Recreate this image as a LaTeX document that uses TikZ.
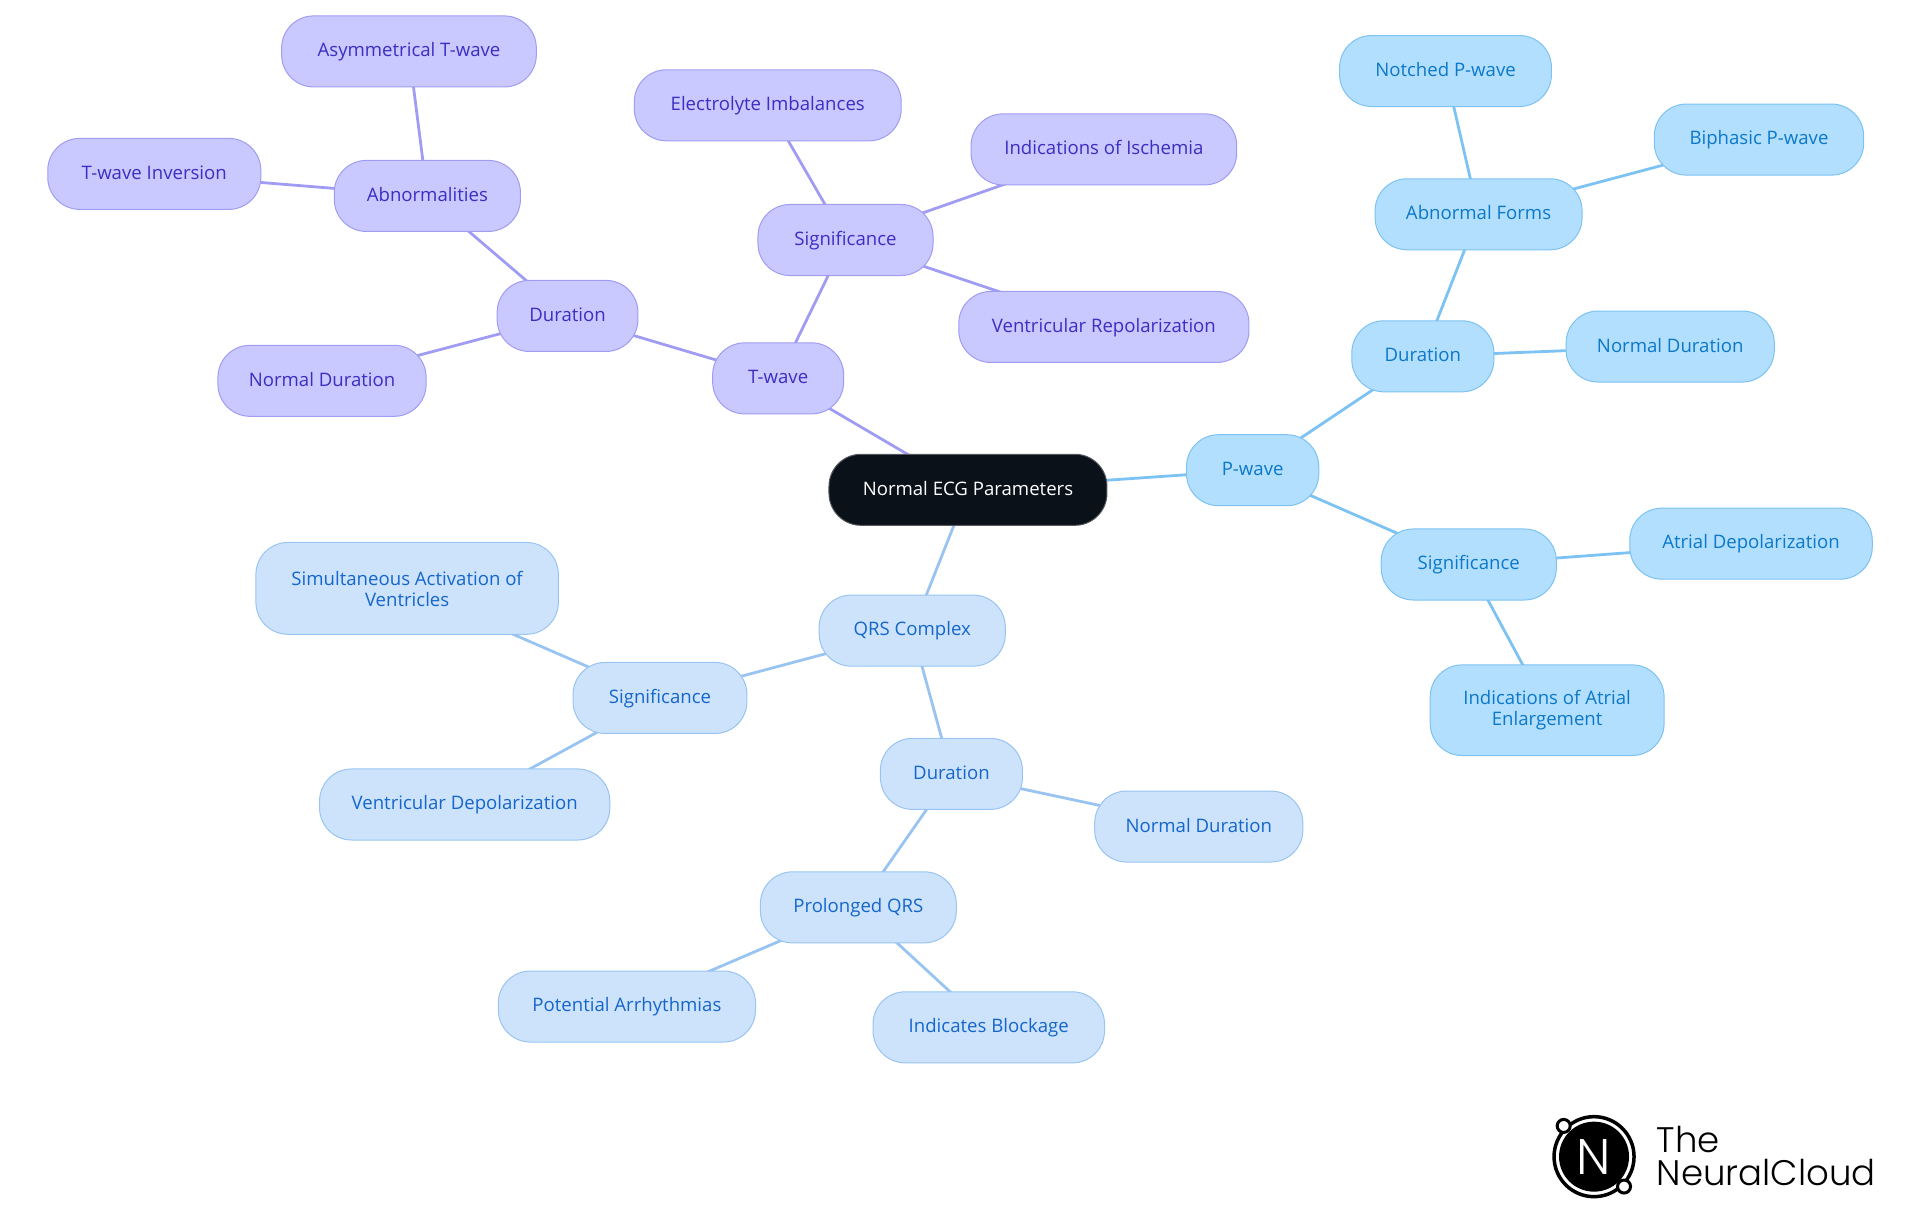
\documentclass[tikz,border=0pt]{standalone}
\usepackage{fontspec}
\usetikzlibrary{backgrounds}
\setmainfont{Open Sans}
\newfontfamily\logofont{Poppins Light}
\definecolor{pfill}{HTML}{B3DFFF}\definecolor{pline}{HTML}{7CC2F2}\definecolor{ptext}{HTML}{0B78C8}
\definecolor{qfill}{HTML}{CDE3FC}\definecolor{qline}{HTML}{99C4F2}\definecolor{qtext}{HTML}{1566CC}
\definecolor{tfill}{HTML}{C9C9FF}\definecolor{tline}{HTML}{A09CF4}\definecolor{ttext}{HTML}{3A2FC2}
\definecolor{rootfill}{HTML}{0B1119}
\tikzset{
  x=1.2245pt,y=-1.2245pt,
  mm/.style={rectangle,rounded corners=32pt,line width=1pt,inner sep=0pt,align=center,
    font=\fontsize{18.6}{21}\selectfont},
  pbox/.style={mm,draw=pline,fill=pfill,text=ptext},
  qbox/.style={mm,draw=qline,fill=qfill,text=qtext},
  tbox/.style={mm,draw=tline,fill=tfill,text=ttext},
  rootbox/.style={mm,draw=rootfill!70!white,fill=rootfill,text=white},
  pedge/.style={draw=pline,line width=2.8pt},
  qedge/.style={draw=qline,line width=2.8pt},
  tedge/.style={draw=tline,line width=2.8pt},
  logodot/.style={circle,draw=black,line width=3pt,fill=white,minimum size=13pt,inner sep=0pt},
  logotext/.style={anchor=base west,inner sep=0pt,font=\logofont\fontsize{35.5}{36}\selectfont},
}
% name, style, x1, x2, y1, y2, text
\newcommand{\bx}[7]{%
  \pgfmathsetlengthmacro{\bw}{(#4-#3)*1.2245pt}%
  \pgfmathsetlengthmacro{\bh}{(#6-#5)*1.2245pt}%
  \node[#2,minimum width=\bw,minimum height=\bh] (#1) at ({(#3+#4)/2},{(#5+#6)/2}) {\rule[-4pt]{0pt}{19pt}#7};}
\begin{document}
\begin{tikzpicture}
\useasboundingbox (0,0) rectangle (1568,992.2);
\bx{root}{rootbox}{677}{904}{371}{429}{Normal ECG Parameters}
\bx{pw}{pbox}{969}{1077}{355}{413}{P-wave}
\bx{tw}{tbox}{582}{689}{280}{338}{T-wave}
\bx{qrs}{qbox}{669}{821}{486}{544}{QRS Complex}
\bx{td}{tbox}{406}{521}{229}{287}{Duration}
\bx{ts}{tbox}{619}{762}{167}{225}{Significance}
\bx{tab}{tbox}{273}{425}{131}{189}{Abnormalities}
\bx{tasym}{tbox}{230}{438}{13}{71}{Asymmetrical T-wave}
\bx{tinv}{tbox}{39}{213}{113}{171}{T-wave Inversion}
\bx{tnd}{tbox}{178}{348}{282}{340}{Normal Duration}
\bx{tel}{tbox}{518}{736}{57}{115}{Electrolyte Imbalances}
\bx{tis}{tbox}{793}{1010}{93}{151}{Indications of Ischemia}
\bx{tvr}{tbox}{783}{1020}{238}{296}{Ventricular Repolarization}
\bx{pd}{pbox}{1104}{1220}{262}{320}{Duration}
\bx{ps}{pbox}{1128}{1271}{432}{490}{Significance}
\bx{paf}{pbox}{1123}{1292}{146}{204}{Abnormal Forms}
\bx{pn}{pbox}{1094}{1267}{29}{87}{Notched P-wave}
\bx{pb}{pbox}{1351}{1522}{85}{143}{Biphasic P-wave}
\bx{pnd}{pbox}{1279}{1449}{254}{312}{Normal Duration}
\bx{pad}{pbox}{1331}{1529}{415}{473}{Atrial Depolarization}
\bx{pia}{pbox}{1168}{1359}{543}{617}{Indications of Atrial\\Enlargement}
\bx{qs}{qbox}{468}{610}{541}{599}{Significance}
\bx{qsim}{qbox}{209}{456}{443}{518}{Simultaneous Activation of\\Ventricles}
\bx{qvd}{qbox}{261}{498}{628}{686}{Ventricular Depolarization}
\bx{qd}{qbox}{719}{835}{603}{661}{Duration}
\bx{qnd}{qbox}{894}{1064}{646}{704}{Normal Duration}
\bx{qp}{qbox}{621}{781}{712}{770}{Prolonged QRS}
\bx{qpa}{qbox}{407}{617}{793}{851}{Potential Arrhythmias}
\bx{qib}{qbox}{713}{902}{810}{868}{Indicates Blockage}
\begin{scope}[on background layer]
\draw[tedge] (root.center) -- (tw.center);
\draw[tedge] (tw.center) -- (td.center);
\draw[tedge] (tw.center) -- (ts.center);
\draw[tedge] (td.center) -- (tab.center);
\draw[tedge] (td.center) -- (tnd.center);
\draw[tedge] (tab.center) -- (tasym.center);
\draw[tedge] (tab.center) -- (tinv.center);
\draw[tedge] (ts.center) -- (tel.center);
\draw[tedge] (ts.center) -- (tis.center);
\draw[tedge] (ts.center) -- (tvr.center);
\draw[pedge] (root.center) -- (pw.center);
\draw[pedge] (pw.center) -- (pd.center);
\draw[pedge] (pw.center) -- (ps.center);
\draw[pedge] (pd.center) -- (paf.center);
\draw[pedge] (pd.center) -- (pnd.center);
\draw[pedge] (paf.center) -- (pn.center);
\draw[pedge] (paf.center) -- (pb.center);
\draw[pedge] (ps.center) -- (pad.center);
\draw[pedge] (ps.center) -- (pia.center);
\draw[qedge] (root.center) -- (qrs.center);
\draw[qedge] (qrs.center) -- (qs.center);
\draw[qedge] (qrs.center) -- (qd.center);
\draw[qedge] (qs.center) -- (qsim.center);
\draw[qedge] (qs.center) -- (qvd.center);
\draw[qedge] (qd.center) -- (qnd.center);
\draw[qedge] (qd.center) -- (qp.center);
\draw[qedge] (qp.center) -- (qpa.center);
\draw[qedge] (qp.center) -- (qib.center);
\end{scope}
% logo
\node[circle,draw=black,line width=3.5pt,fill=white,minimum size=80pt,inner sep=0pt] (logoring) at (1301.8,944.6) {};
\node[circle,fill=black,minimum size=70pt,inner sep=0pt,text=white,font=\logofont\fontsize{50}{50}\selectfont] (logoin) at (1301.8,944.6) {N};
\node[logodot] (logoa) at (1277,919.5) {};
\node[logodot] (logob) at (1326.3,969) {};
\node[logotext] (logot) at (1353,941) {The};
\node[logotext] (logon) at (1353,968) {NeuralCloud};
\end{tikzpicture}
\end{document}
